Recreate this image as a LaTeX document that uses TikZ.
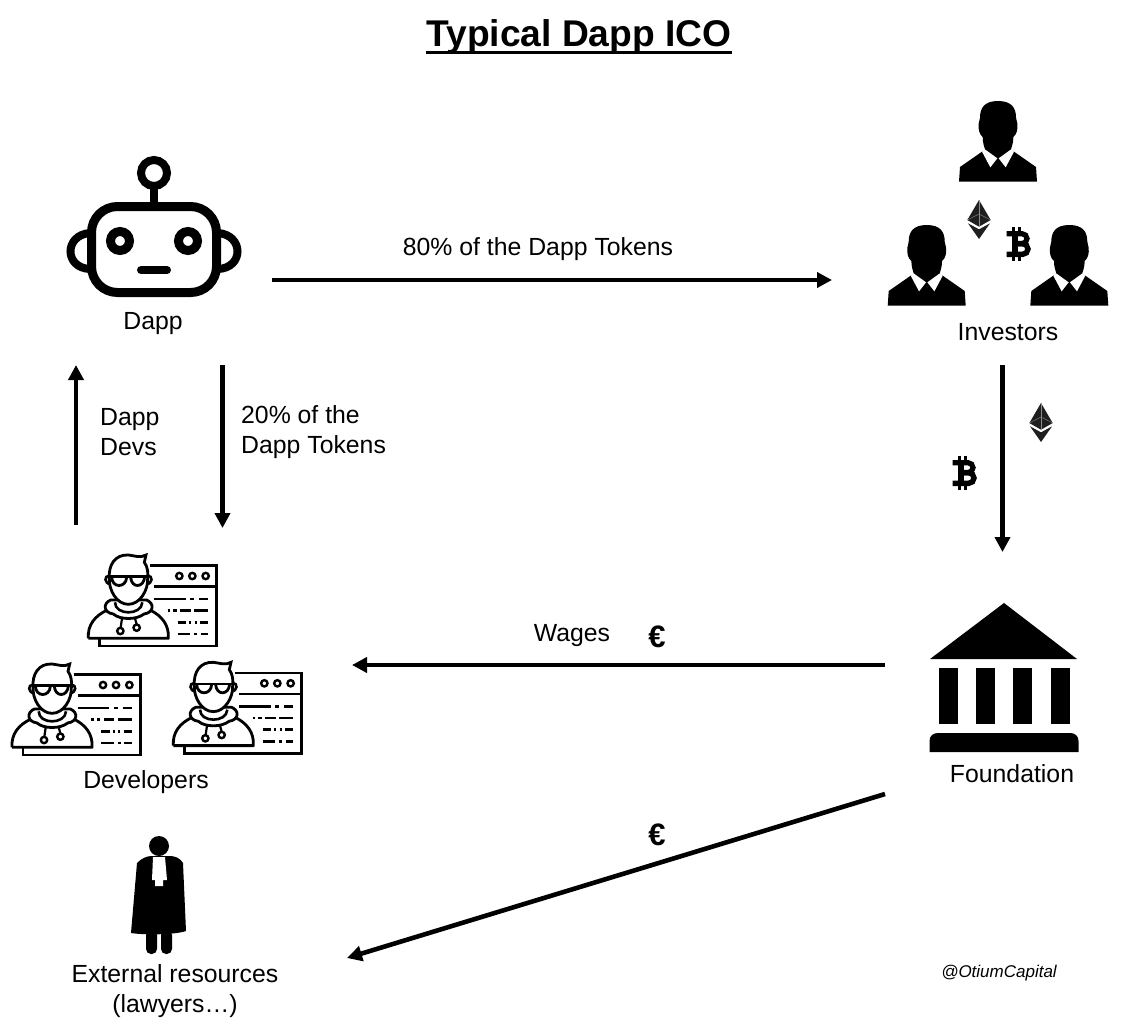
\documentclass[tikz,border=0pt]{standalone}
\usepackage{fontspec}
\setmainfont{Liberation Sans}
\usetikzlibrary{arrows.meta}
\tikzset{
    flow/.style = {line width = 4.6pt, -{Triangle[length = 15pt, width = 15pt]}},
    caption/.style = {inner sep = 0pt, font = \fontsize{24.8}{30}\selectfont, align = left},
    euro/.style = {inner sep = 0pt, font = \fontsize{31}{31}\selectfont\bfseries},
    investor/.pic = {
        \fill (0, 0) .. controls (-42, 0) and (-54, 22) .. (-54, 50) -- (-58, 68) .. controls (-60, 85) and (-56, 100) .. (-46, 108) .. controls (-46, 125) and (-42, 135) .. (-38, 148) -- (-48, 152) -- (-114, 198) -- (-117, 242) -- (117, 242) -- (114, 198) -- (48, 152) -- (38, 148) .. controls (42, 135) and (46, 125) .. (46, 108) .. controls (56, 100) and (60, 85) .. (58, 68) -- (54, 50) .. controls (54, 22) and (42, 0) .. (0, 0) -- cycle;
        \fill [white] (-48, 152) -- (-23, 199) -- (-2, 172) -- (-38, 146) -- cycle;
        \fill [white] (48, 152) -- (23, 199) -- (2, 172) -- (38, 146) -- cycle;
    },
    ether/.pic = {
        \fill [black!88] (0, 0) -- (-35, 60) -- (0, 80) -- (35, 60) -- cycle;
        \fill [black!88] (-33, 70) -- (0, 117) -- (33, 70) -- (0, 88) -- cycle;
        \draw [black!45, line width = 0.4pt] (-35, 60) -- (0, 42) -- (35, 60);
        \draw [black!45, line width = 0.4pt] (0, 0) -- (0, 80);
    },
    bitcoin/.pic = {
        \draw [line width = 5.2pt] (38, 203) -- (84, 203) arc [start angle = -90, end angle = 90, radius = 15] -- (56, 233);
        \draw [line width = 5.4pt] (56, 233) -- (86, 233) arc [start angle = -90, end angle = 90, radius = 16] -- (38, 265);
        \draw [line width = 6pt] (62, 200) -- (62, 268);
        \draw [line width = 2.6pt] (58, 182) -- (58, 200) (76, 182) -- (76, 200);
        \draw [line width = 2.6pt] (58, 268) -- (58, 285) (76, 268) -- (76, 285);
    },
    devicon/.pic = {
        \draw [line width = 2.8pt] (450, 62) -- (650, 62) -- (650, 303) -- (298, 303) -- (298, 282);
        \draw [line width = 2.8pt] (462, 125) -- (650, 125);
        \foreach \dotx in {538, 577, 617}
            \draw [line width = 2.4pt] (\dotx, 93) circle [radius = 9.5];
        \draw [line width = 2.8pt] (462, 162) -- (557, 162) (570, 162) -- (583, 162) (597, 162) -- (625, 162);
        \draw [line width = 2.8pt] (503, 197) -- (510, 197) (520, 197) -- (530, 197) (541, 197) -- (572, 197) (583, 197) -- (625, 197);
        \draw [line width = 2.8pt] (533, 232) -- (558, 232) (568, 232) -- (574, 232) (584, 232) -- (590, 232) (600, 232) -- (625, 232);
        \draw [line width = 2.8pt] (533, 267) -- (570, 267) (582, 267) -- (592, 267) (602, 267) -- (625, 267);
        \draw [line width = 2.8pt, line join = round] (265, 280) -- (505, 280) .. controls (508, 240) and (485, 212) .. (450, 195);
        \draw [line width = 2.8pt] (265, 280) .. controls (262, 240) and (285, 212) .. (322, 195);
        \draw [line width = 2.8pt, fill = white] (332, 165) .. controls (308, 175) and (310, 203) .. (340, 207) .. controls (360, 225) and (410, 225) .. (432, 207) .. controls (462, 203) and (464, 175) .. (440, 165) -- cycle;
        \draw [line width = 2.6pt] (345, 172) .. controls (345, 212) and (425, 212) .. (427, 172);
        \draw [line width = 2.8pt, fill = white] (328, 100) .. controls (325, 60) and (345, 28) .. (385, 30) .. controls (405, 32) and (420, 40) .. (438, 30) -- (433, 52) .. controls (443, 65) and (445, 85) .. (443, 100) .. controls (445, 135) and (420, 178) .. (385, 178) .. controls (350, 178) and (326, 135) .. (328, 100) -- cycle;
        \draw [line width = 2.6pt] (328, 92) .. controls (312, 92) and (312, 115) .. (332, 118);
        \draw [line width = 2.6pt] (443, 92) .. controls (459, 92) and (459, 115) .. (439, 118);
        \draw [line width = 2.8pt] (326, 95) -- (445, 95);
        \draw [line width = 2.8pt] (335, 95) .. controls (335, 130) and (378, 130) .. (380, 97);
        \draw [line width = 2.8pt] (392, 97) .. controls (394, 130) and (432, 130) .. (434, 95);
        \draw [line width = 2.2pt] (366, 220) -- (362, 248);
        \draw [line width = 2.2pt] (405, 220) -- (410, 238);
        \draw [line width = 2.4pt] (361, 258) circle [radius = 9.5];
        \draw [line width = 2.4pt] (410, 248) circle [radius = 9.5];
    },
}
\begin{document}
\begin{tikzpicture}[x = 1pt, y = -1pt]
    \useasboundingbox (0, 0) rectangle (1139, 1033);
    % title
    \node [anchor = base, inner sep = 0pt, font = \fontsize{37.2}{40}\selectfont\bfseries] (title) at (579, 46.7) {Typical Dapp ICO};
    \draw [line width = 3.3pt] (426, 52.7) -- (732, 52.7);
    % robot
    \draw [line width = 9pt, rounded corners = 26pt] (91.5, 206.5) rectangle (216.5, 292.5);
    \draw [line width = 8pt] (154, 173) circle [radius = 13];
    \draw [line width = 8pt] (154, 186) -- (154, 206);
    \draw [line width = 8pt] (90, 233) .. controls (64, 235) and (64, 268) .. (90, 269);
    \draw [line width = 8pt] (218, 233) .. controls (244, 235) and (244, 268) .. (218, 269);
    \draw [line width = 9pt] (120, 241) circle [radius = 9.5];
    \draw [line width = 9pt] (188, 241) circle [radius = 9.5];
    \draw [line width = 8pt, line cap = round] (141, 270) -- (167, 270);
    \node [caption] (dapp) at (153, 324) {Dapp};
    % investors
    \pic [scale = 1/3] (investorone) at (998, 101) {investor};
    \pic [scale = 1/3] (investortwo) at (926.7, 225) {investor};
    \pic [scale = 1/3] (investorthree) at (1069.3, 225) {investor};
    \pic [scale = 1/3] (etherone) at (979, 200) {ether};
    \pic [scale = 1/3] (bitcoinone) at (994, 166) {bitcoin};
    \node [caption] (investors) at (1008, 332) {Investors};
    \pic [scale = 1/3] (ethertwo) at (1041, 403) {ether};
    \pic [scale = 1/3] (bitcointwo) at (940, 395) {bitcoin};
    % developers
    \pic [scale = 1/3] (devtop) at (0, 545) {devicon};
    \pic [scale = 1/3] (devleft) at (-76.3, 654) {devicon};
    \pic [scale = 1/3] (devright) at (85, 652.3) {devicon};
    \node [caption] (developers) at (146, 782) {Developers};
    % foundation
    \fill (1004, 603) -- (930, 659) -- (1077, 659) -- cycle;
    \foreach \colx in {939, 976, 1013, 1051}
        \fill (\colx, 668) rectangle (\colx + 18.5, 724);
    \fill (929.5, 752) -- (929.5, 741) .. controls (929.5, 736) and (933, 733) .. (938, 733) -- (1070, 733) .. controls (1075, 733) and (1078.5, 736) .. (1078.5, 741) -- (1078.5, 752) -- cycle;
    \node [caption] (foundation) at (1012, 774) {Foundation};
    % lawyer
    \fill (159, 846) circle [radius = 10];
    \fill (137, 863) .. controls (142, 858) and (147, 856) .. (152, 856) -- (170, 856) .. controls (175, 856) and (180, 858) .. (183, 863) -- (186, 931) .. controls (175, 935) and (143, 935) .. (131, 933) -- cycle;
    \fill [rounded corners = 5pt] (146, 930) -- (146, 954) -- (157, 954) -- (157, 930) -- cycle;
    \fill [rounded corners = 5pt] (161, 930) -- (161, 954) -- (172, 954) -- (172, 930) -- cycle;
    \fill [white] (153, 857) -- (152, 880) -- (155, 880) -- (155, 886) -- (163, 886) -- (163, 880) -- (167, 880) -- (165, 857) -- cycle;
    \node [caption, align = center] (resources) at (175, 991) {External resources\\(lawyers…)};
    % connector ends
    \coordinate (dappout) at (272, 280);
    \coordinate (investorsin) at (832, 280);
    \coordinate (devsout) at (76, 525);
    \coordinate (dappin) at (76, 365);
    \coordinate (dappdown) at (222.5, 365);
    \coordinate (devsin) at (222.5, 528);
    \coordinate (investorsout) at (1002.5, 365);
    \coordinate (foundationin) at (1002.5, 552);
    \coordinate (foundationout) at (885, 665);
    \coordinate (wagesin) at (352, 665);
    \coordinate (foundationlow) at (885, 794);
    \coordinate (resourcesin) at (347, 958);
    \draw [flow] (dappout) -- (investorsin);
    \draw [flow] (devsout) -- (dappin);
    \draw [flow] (dappdown) -- (devsin);
    \draw [flow] (investorsout) -- (foundationin);
    \draw [flow] (foundationout) -- (wagesin);
    \draw [flow] (foundationlow) -- (resourcesin);
    % labels
    \node [caption] (tokenstop) at (538, 249) {80\% of the Dapp Tokens};
    \node [caption, anchor = west] (dappdevs) at (100, 432) {Dapp\\Devs};
    \node [caption, anchor = west] (tokensdevs) at (241, 432) {20\% of the\\Dapp Tokens};
    \node [caption] (wages) at (572, 636) {Wages};
    \node [euro] (euroone) at (657, 637) {€};
    \node [euro] (eurotwo) at (657, 835) {€};
    \node [inner sep = 0pt, font = \fontsize{17}{20}\selectfont\itshape] (credit) at (999, 973) {@OtiumCapital};
\end{tikzpicture}
\end{document}
